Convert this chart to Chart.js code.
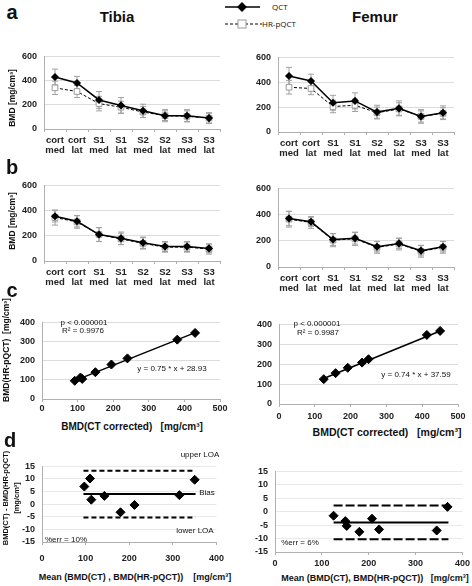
<!DOCTYPE html>
<html>
<head>
<meta charset="utf-8">
<script src="https://cdn.jsdelivr.net/npm/chart.js@4.4.0/dist/chart.umd.min.js"></script>
<style>
  body { margin: 0; background: #fff; }
  #wrap { position: relative; width: 472px; height: 586px; overflow: hidden; font-family: "Liberation Sans", Arial, sans-serif; color: #111; }
  #wrap canvas { position: absolute; }
  .t { position: absolute; white-space: pre; line-height: 1; transform: translate(-50%, -50%); }
  .b { font-weight: bold; }
  .rot { transform: translate(-50%, -50%) rotate(-90deg); }
  .leg { position: absolute; font-family: "Open Sans", sans-serif; font-size: 8px; line-height: 1; transform: translateY(-50%); white-space: nowrap; }
</style>
</head>
<body>
<div id="wrap">
  <svg width="80" height="34" style="position:absolute;left:220px;top:0">
    <line x1="5" y1="7" x2="40" y2="7" stroke="#000" stroke-width="1.5"/>
    <polygon points="22,2 27,7 22,12 17,7" fill="#000"/>
    <line x1="5" y1="24" x2="42" y2="24" stroke="#000" stroke-width="1" stroke-dasharray="3,2"/>
    <rect x="18" y="20" width="8" height="8" fill="#fff" stroke="#999" stroke-width="1"/>
  </svg>
  <div class="leg" style="left:272px;top:7px">QCT</div>
  <div class="leg" style="left:262px;top:24px">HR-pQCT</div>
</div>
<script>
// ---- data ----
const SITES = [["cort", "med"], ["cort", "lat"], ["S1", "med"], ["S1", "lat"], ["S2", "med"], ["S2", "lat"], ["S3", "med"], ["S3", "lat"]];

// a) raw BMD
const tibiaQct = [430, 380, 240, 195, 150, 110, 110, 90];
const tibiaQctSd = [65, 55, 70, 65, 55, 50, 50, 45];
const tibiaHr = [340, 310, 210, 180, 140, 110, 105, 90];
const tibiaHrSd = [55, 50, 60, 50, 45, 40, 45, 40];
const femurQct = [450, 410, 235, 250, 160, 190, 125, 155];
const femurQctSd = [70, 55, 60, 65, 55, 60, 55, 55];
const femurHr = [360, 350, 205, 215, 155, 185, 125, 150];
const femurHrSd = [55, 50, 50, 50, 45, 50, 45, 45];

// b) corrected BMD
const tibiaCorr = [355, 315, 210, 180, 145, 115, 115, 100];
const tibiaCorrSd = [45, 45, 55, 50, 45, 40, 40, 35];
const tibiaHrB = [345, 310, 210, 175, 140, 110, 110, 95];
const tibiaHrBSd = [60, 50, 55, 45, 45, 40, 40, 40];
const femurCorr = [370, 345, 210, 220, 155, 180, 125, 155];
const femurCorrSd = [55, 35, 45, 45, 40, 40, 40, 40];
const femurHrB = [365, 340, 205, 215, 150, 175, 120, 150];
const femurHrBSd = [60, 45, 50, 50, 45, 45, 45, 45];

// c) regression
const tibiaRegX = [92, 108, 113, 150, 195, 240, 380, 430];
const tibiaRegY = [95, 112, 105, 140, 180, 212, 310, 345];
const tibiaFitX = [92, 432];
const tibiaFitY = [96, 348];
const femurRegX = [125, 158, 192, 232, 250, 413, 450];
const femurRegY = [125, 155, 182, 208, 225, 347, 367];
const femurFitX = [123, 452];
const femurFitY = [127, 368];

// d) Bland-Altman
const tibiaMean = [97, 110, 113, 143, 180, 212, 315, 350];
const tibiaDiff = [7, 10.2, 1.8, 3.3, -3.2, -0.3, 3.6, 9.7];
const tibiaLimits = [13.3, 4.0, -5.3]; // upper LOA, bias, lower LOA
const tibiaSpan = [95, 352];
const femurMean = [125, 150, 153, 180, 207, 222, 345, 368];
const femurDiff = [-1.5, -3.5, -5.3, -7.5, -2.6, -6.6, -7, 1.8];
const femurLimits = [2.3, -4.0, -10.3];
const femurSpan = [125, 370];

// ---- setup ----
Chart.defaults.font.family = '"Liberation Sans", Arial, sans-serif';
Chart.defaults.color = "#222";
const GRID = "#dcdcdc", AXIS = "#b0b0b0";
const wrap = document.getElementById("wrap");

// grey whiskers under the lines
const errorBars = {
  id: "errorBars",
  beforeDatasetsDraw(chart) {
    const { ctx } = chart;
    const y = chart.scales.y;
    chart.data.datasets.forEach((ds, i) => {
      if (!ds.errors) return;
      ctx.save();
      ctx.strokeStyle = "#a0a0a0";
      ctx.lineWidth = 1;
      chart.getDatasetMeta(i).data.forEach((pt, j) => {
        const top = y.getPixelForValue(ds.data[j] + ds.errors[j]);
        const bot = y.getPixelForValue(ds.data[j] - ds.errors[j]);
        ctx.beginPath();
        ctx.moveTo(pt.x, top); ctx.lineTo(pt.x, bot);
        ctx.moveTo(pt.x - 3, top); ctx.lineTo(pt.x + 3, top);
        ctx.moveTo(pt.x - 3, bot); ctx.lineTo(pt.x + 3, bot);
        ctx.stroke();
      });
      ctx.restore();
    });
  }
};

// canvas placed so the plot area lands on [left, top, right, bottom]
function makeCanvas(plot, yw, xh, pr) {
  const c = document.createElement("canvas");
  const w = plot[2] - plot[0] + yw + pr;
  const h = plot[3] - plot[1] + 8 + xh;
  c.width = w; c.height = h;
  c.style.left = (plot[0] - yw) + "px";
  c.style.top = (plot[1] - 8) + "px";
  c.style.width = w + "px"; c.style.height = h + "px";
  wrap.appendChild(c);
  return c;
}

function baseOptions(pr) {
  return {
    responsive: false,
    animation: false,
    layout: { padding: { top: 8, right: pr, left: 0, bottom: 0 } },
    plugins: { legend: { display: false }, tooltip: { enabled: false } }
  };
}

function yAxis(min, max, step, yw, gridColor) {
  return {
    min: min, max: max,
    ticks: { stepSize: step, autoSkip: false, padding: 7, font: { size: 9, weight: "bold" } },
    grid: { color: gridColor, drawTicks: false },
    border: { color: AXIS },
    afterFit: s => { s.width = yw; }
  };
}

function profileChart(plot, yw, main, mainSd, hr, hrSd) {
  const cv = makeCanvas(plot, yw, 30, 6);
  const opts = baseOptions(6);
  opts.scales = {
    x: {
      offset: true,
      grid: { drawOnChartArea: false, offset: true, tickLength: 3, color: AXIS },
      border: { color: AXIS },
      ticks: { autoSkip: false, maxRotation: 0, padding: 3, color: "#222", font: { size: 9.5, weight: "bold", lineHeight: 1.05 } },
      afterFit: s => { s.height = 30; }
    },
    y: yAxis(0, 600, 200, yw, GRID)
  };
  return new Chart(cv, {
    type: "line",
    data: {
      labels: SITES,
      datasets: [
        { data: main, errors: mainSd, borderColor: "#000", borderWidth: 1.5, pointStyle: "rectRot", pointRadius: 3, pointBackgroundColor: "#000", pointBorderColor: "#000" },
        { data: hr, errors: hrSd, borderColor: "#000", borderWidth: 1, borderDash: [3, 2], pointStyle: "rect", pointRadius: 4, pointBackgroundColor: "#fff", pointBorderColor: "#999", pointBorderWidth: 1 }
      ]
    },
    options: opts,
    plugins: [errorBars]
  });
}

function linearX(max, xh, pad) {
  return {
    type: "linear", min: 0, max: max,
    grid: { drawOnChartArea: false, tickLength: 3, color: AXIS },
    border: { color: AXIS },
    ticks: { stepSize: 100, autoSkip: false, padding: pad, color: "#222", font: { size: 9, weight: "bold" } },
    afterFit: s => { s.height = xh; }
  };
}

function pairs(xs, ys) { return xs.map((x, i) => ({ x: x, y: ys[i] })); }

function regressionChart(plot, yw, xh, pad, xs, ys, fx, fy) {
  const cv = makeCanvas(plot, yw, xh, 12);
  const opts = baseOptions(12);
  opts.scales = { x: linearX(500, xh, pad), y: yAxis(0, 400, 100, yw, GRID) };
  return new Chart(cv, {
    type: "scatter",
    data: {
      datasets: [
        { data: pairs(xs, ys), pointStyle: "rectRot", pointRadius: 4.5, backgroundColor: "#000", borderColor: "#000" },
        { data: pairs(fx, fy), showLine: true, pointRadius: 0, borderColor: "#000", borderWidth: 1.5 }
      ]
    },
    options: opts
  });
}

function blandAltmanChart(plot, yw, xh, pad, pr, xs, ys, limits, span, dash) {
  const cv = makeCanvas(plot, yw, xh, pr);
  const opts = baseOptions(pr);
  opts.scales = { x: linearX(400, xh, pad), y: yAxis(-15, 15, 5, yw, "#e8e8e8") };
  const limitLine = (v, d) => ({
    data: span.map(x => ({ x: x, y: v })), showLine: true, pointRadius: 0,
    borderColor: "#000", borderWidth: 2, borderDash: d
  });
  return new Chart(cv, {
    type: "scatter",
    data: {
      datasets: [
        { data: pairs(xs, ys), pointStyle: "rectRot", pointRadius: 4.5, backgroundColor: "#000", borderColor: "#000" },
        limitLine(limits[0], dash),
        limitLine(limits[1], []),
        limitLine(limits[2], dash)
      ]
    },
    options: opts
  });
}

// ---- charts ----
profileChart([44, 52, 220, 129], 44, tibiaQct, tibiaQctSd, tibiaHr, tibiaHrSd);
profileChart([278, 53, 454, 132], 40, femurQct, femurQctSd, femurHr, femurHrSd);
profileChart([44, 181, 220, 261], 44, tibiaCorr, tibiaCorrSd, tibiaHrB, tibiaHrBSd);
profileChart([278, 184, 454, 267], 40, femurCorr, femurCorrSd, femurHrB, femurHrBSd);

regressionChart([42, 318, 220, 399], 42, 16, 1, tibiaRegX, tibiaRegY, tibiaFitX, tibiaFitY);
regressionChart([279, 320, 458, 404], 40, 18, 4, femurRegX, femurRegY, femurFitX, femurFitY);

blandAltmanChart([42, 462, 218, 542], 42, 22, 8, 14, tibiaMean, tibiaDiff, tibiaLimits, tibiaSpan, [5, 3]);
blandAltmanChart([275, 467, 463, 552], 40, 17, 3, 10, femurMean, femurDiff, femurLimits, femurSpan, [9, 3]);

// ---- text ----
function label(text, x, y, css, cls) {
  const d = document.createElement("div");
  d.className = "t " + (cls || "");
  d.textContent = text;
  d.style.left = x + "px";
  d.style.top = y + "px";
  d.style.cssText += css;
  wrap.appendChild(d);
}

label("a", 12, 12, "font-size:20px;", "b");
label("b", 12, 167, "font-size:20px;", "b");
label("c", 12, 290, "font-size:20px;", "b");
label("d", 10, 440, "font-size:20px;", "b");
label("Tibia", 117, 16, "font-size:15px;", "b");
label("Femur", 375, 16, "font-size:15px;", "b");

label("BMD [mg/cm³]", 12, 98, "font-size:8.5px;", "b rot");
label("BMD [mg/cm³]", 12, 221, "font-size:8.5px;", "b rot");
label("BMD(HR-pQCT)  [mg/cm³]", 6, 350, "font-size:8.5px;", "b rot");
label("BMD(CT) - BMD(HR-pQCT)", 6, 498, "font-size:7.5px;", "b rot");
label("[mg/cm³]", 17, 498, "font-size:7.5px;", "b rot");

label("BMD(CT corrected)   [mg/cm³]", 132, 427, "font-size:10px;", "b");
label("BMD(CT corrected)   [mg/cm³]", 387, 432, "font-size:10.5px;", "b");
label("Mean (BMD(CT) , BMD(HR-pQCT))    [mg/cm³]", 135, 577, "font-size:9px;", "b");
label("Mean (BMD(CT), BMD(HR-pQCT))   [mg/cm³]", 375, 578, "font-size:9px;", "b");

label("p < 0.000001", 84, 323, "font-size:8px;");
label("R² = 0.9976", 83, 331, "font-size:8px;");
label("y = 0.75 * x + 28.93", 172, 369, "font-size:8px;");
label("p < 0.000001", 317, 324, "font-size:8px;");
label("R² = 0.9987", 318, 333, "font-size:8px;");
label("y = 0.74 * x + 37.59", 416, 375, "font-size:8px;");

label("upper LOA", 200, 455, "font-size:8px;");
label("Bias", 207, 493, "font-size:8px;");
label("lower LOA", 195, 531, "font-size:8px;");
label("%err = 10%", 66, 540, "font-size:8px;");
label("%err = 6%", 300, 543, "font-size:8px;");
</script>
</body>
</html>
